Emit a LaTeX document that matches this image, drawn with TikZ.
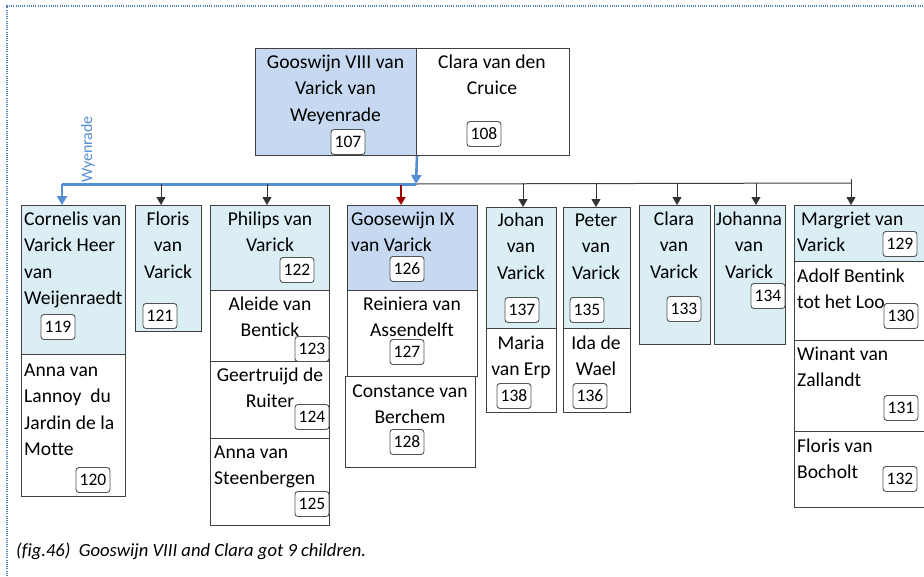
\documentclass[tikz,border=0pt]{standalone}
\usepackage{fontspec}
\setmainfont{Carlito}[Ligatures={NoCommon}]
\usetikzlibrary{arrows.meta}
\definecolor{lblue}{RGB}{219,238,243}
\definecolor{mblue}{RGB}{198,217,241}
\definecolor{lineblue}{RGB}{85,142,213}
\definecolor{darkred}{RGB}{160,0,0}
\definecolor{bordergray}{RGB}{64,64,64}
\definecolor{dotblue}{RGB}{79,129,189}
\newcommand{\firstln}{\rule{0pt}{15pt}}
\tikzset{
  pbox/.style={draw=bordergray, line width=1pt, inner sep=0pt, anchor=north west},
  txt/.style={inner sep=0pt, font=\fontsize{19.6}{26.5}\selectfont},
  ltxt/.style={txt, anchor=north west, align=left},
  ctxt/.style={txt, anchor=north, align=center},
  badge/.style={draw=gray!65!black, fill=white, rounded corners=3pt, minimum width=34pt, minimum height=25pt, inner sep=0pt, font=\fontsize{17.5}{17.5}\selectfont, line width=0.9pt},
  childarrow/.style={draw=black!80, line width=1pt, -{Triangle[width=9pt,length=8pt]}},
  bluearrow/.style={draw=lineblue, line width=2.6pt, -{Triangle[width=10pt,length=9pt]}},
  redarrow/.style={draw=darkred, line width=2pt, -{Triangle[width=9pt,length=8pt]}},
}
\begin{document}
\begin{tikzpicture}[x=1pt,y=-1pt]
\clip (0,0) rectangle (924,576);
\fill[white] (0,0) rectangle (924,576);
% dotted frame
\draw[dotblue, line width=1.3pt, dash pattern=on 1pt off 1.2pt] (7,576) -- (7,6) -- (924,6);

% parents
\node[pbox, fill=mblue, minimum width=161pt, minimum height=107pt] (gooswijn) at (255,48) {};
\node[pbox, fill=white, minimum width=153pt, minimum height=107pt] (clara) at (416,48) {};
\node[ctxt] (tgooswijn) at (335.5,53) {\firstln Gooswijn VIII van\\Varick van\\Weyenrade};
\node[ctxt] (tclara) at (492,53) {\firstln Clara van den\\Cruice};
\node[badge] (n107) at (348,142) {107};
\node[badge] (n108) at (484,134) {108};

% children column 1
\node[pbox, fill=lblue, minimum width=104pt, minimum height=149pt] (cornelis) at (21,205) {};
\node[pbox, fill=white, minimum width=104pt, minimum height=142pt] (annal) at (21,354) {};
\node[ltxt] (tcornelis) at (24,210) {\firstln Cornelis van\\Varick Heer\\van\\Weijenraedt};
\node[ltxt] (tannal) at (24,361) {\firstln Anna van\\Lannoy\ \ du\\Jardin de la\\Motte};
\node[badge] (n119) at (58,327) {119};
\node[badge] (n120) at (93,480) {120};

% column 2
\node[pbox, fill=lblue, minimum width=66pt, minimum height=126pt] (floris) at (135,205) {};
\node[ctxt] (tfloris) at (168,210) {\firstln Floris\\van\\Varick};
\node[badge] (n121) at (160,316) {121};

% column 3
\node[pbox, fill=lblue, minimum width=119pt, minimum height=85pt] (philips) at (210,205) {};
\node[pbox, fill=white, minimum width=119pt, minimum height=71pt] (aleide) at (210,290) {};
\node[pbox, fill=white, minimum width=119pt, minimum height=77pt] (geertruijd) at (210,361) {};
\node[pbox, fill=white, minimum width=119pt, minimum height=87pt] (annas) at (210,438) {};
\node[ctxt] (tphilips) at (270,210) {\firstln Philips van\\Varick};
\node[ctxt] (taleide) at (270,295) {\firstln Aleide van\\Bentick};
\node[ctxt] (tgeertruijd) at (270,366) {\firstln Geertruijd de\\Ruiter};
\node[ltxt] (tannas) at (214,443) {\firstln Anna van\\Steenbergen};
\node[badge] (n122) at (297,270) {122};
\node[badge] (n123) at (312,349) {123};
\node[badge] (n124) at (312,417) {124};
\node[badge] (n125) at (312,504) {125};

% column 4
\node[pbox, fill=mblue, minimum width=130pt, minimum height=85pt] (goosewijn) at (347,205) {};
\node[pbox, fill=white, minimum width=130pt, minimum height=86pt] (reiniera) at (347,290) {};
\node[pbox, fill=white, minimum width=130pt, minimum height=91pt] (constance) at (345,376) {};
\node[ltxt] (tgoosewijn) at (351,210) {\firstln Goosewijn IX\\van Varick};
\node[ctxt] (treiniera) at (412,295) {\firstln Reiniera van\\Assendelft};
\node[ctxt] (tconstance) at (410,382) {\firstln Constance van\\Berchem};
\node[badge] (n126) at (407,269) {126};
\node[badge] (n127) at (407,352) {127};
\node[badge] (n128) at (407,442) {128};

% column 5
\node[pbox, fill=lblue, minimum width=70pt, minimum height=121pt] (johan) at (486,207) {};
\node[pbox, fill=white, minimum width=70pt, minimum height=84pt] (maria) at (486,328) {};
\node[ctxt] (tjohan) at (521,211) {\firstln Johan\\van\\Varick};
\node[ctxt] (tmaria) at (521,334) {\firstln Maria\\van Erp};
\node[badge] (n137) at (522,310) {137};
\node[badge] (n138) at (514,396) {138};

% column 6
\node[pbox, fill=lblue, minimum width=67pt, minimum height=121pt] (peter) at (563,207) {};
\node[pbox, fill=white, minimum width=67pt, minimum height=84pt] (ida) at (563,328) {};
\node[ctxt] (tpeter) at (596,211) {\firstln Peter\\van\\Varick};
\node[ctxt] (tida) at (596,334) {\firstln Ida de\\Wael};
\node[badge] (n135) at (587,310) {135};
\node[badge] (n136) at (590,396) {136};

% column 7
\node[pbox, fill=lblue, minimum width=71pt, minimum height=139pt] (clarav) at (639,205) {};
\node[ctxt] (tclarav) at (674,210) {\firstln Clara\\van\\Varick};
\node[badge] (n133) at (684,309) {133};

% column 8
\node[pbox, fill=lblue, minimum width=71pt, minimum height=139pt] (johanna) at (714,205) {};
\node[ctxt] (tjohanna) at (749,210) {\firstln Johanna\\van\\Varick};
\node[badge] (n134) at (768,296) {134};

% column 9
\node[pbox, fill=lblue, minimum width=140pt, minimum height=56pt] (margriet) at (794,205) {};
\node[pbox, fill=white, minimum width=140pt, minimum height=79pt] (adolf) at (794,261) {};
\node[pbox, fill=white, minimum width=140pt, minimum height=91pt] (winant) at (794,340) {};
\node[pbox, fill=white, minimum width=140pt, minimum height=76pt] (florisb) at (794,431) {};
\node[ltxt] (tmargriet) at (797,210) {\firstln \hspace{4pt}Margriet van\\Varick};
\node[ltxt] (tadolf) at (797,267) {\firstln Adolf Bentink\\tot het Loo};
\node[ltxt] (twinant) at (797,345) {\firstln Winant van\\Zallandt};
\node[ltxt] (tflorisb) at (797,437) {\firstln Floris van\\Bocholt};
\node[badge] (n129) at (900,244) {129};
\node[badge] (n130) at (901,316) {130};
\node[badge] (n131) at (901,408) {131};
\node[badge] (n132) at (900,479) {132};

% bus lines
\coordinate (busR) at (416,184);
\coordinate (busL) at (62,184);
\coordinate (busE) at (851,183);
\coordinate (busEtop) at (851,179);
\draw[black!75, line width=1pt] (busR) -- (busE);
\draw[draw=lineblue, line width=3pt] (busL) -- (busR);
\draw[bluearrow] (gooswijn.south east) -- (busR);
\draw[bluearrow] (busL) -- (busL |- cornelis.north);
\node[inner sep=0pt, rotate=90, anchor=base west, text=lineblue, font=\fontsize{16}{16}\selectfont] (lbl) at (92,183) {Wyenrade};

\coordinate (c2) at (161,184);
\coordinate (c3) at (267,184);
\coordinate (c4) at (401,185);
\coordinate (c5) at (523,183);
\coordinate (c6) at (596,183);
\coordinate (c7) at (677,183);
\coordinate (c8) at (756,183);
\draw[childarrow] (c2) -- (c2 |- floris.north);
\draw[childarrow] (c3) -- (c3 |- philips.north);
\draw[redarrow] (c4) -- (c4 |- goosewijn.north);
\draw[childarrow] (c5) -- (c5 |- johan.north);
\draw[childarrow] (c6) -- (c6 |- peter.north);
\draw[childarrow] (c7) -- (c7 |- clarav.north);
\draw[childarrow] (c8) -- (c8 |- johanna.north);
\draw[childarrow] (busEtop) -- (busEtop |- margriet.north);

% caption
\node[inner sep=0pt, anchor=base west, font=\fontsize{18.6}{18.6}\selectfont\itshape] (caption) at (16,556) {(fig.46)\ \ Gooswijn VIII and Clara got 9 children.};
\end{tikzpicture}
\end{document}
